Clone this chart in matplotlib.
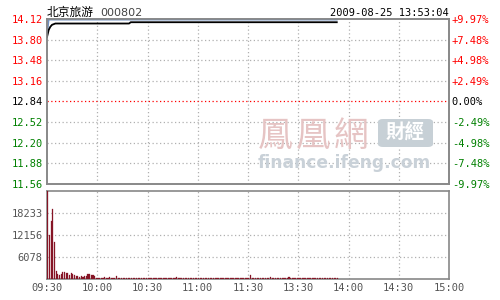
import matplotlib
matplotlib.use("Agg")
import matplotlib.pyplot as plt
from matplotlib.patches import FancyBboxPatch

# ---------------- data ----------------
stock_name = "北京旅游"
stock_code = "000802"
timestamp = "2009-08-25 13:53:04"
prev_close = 12.84

price_levels = [14.12, 13.80, 13.48, 13.16, 12.84, 12.52, 12.20, 11.88, 11.56]
pct_labels = ["+9.97%", "+7.48%", "+4.98%", "+2.49%", "0.00%",
              "-2.49%", "-4.98%", "-7.48%", "-9.97%"]
time_labels = ["09:30", "10:00", "10:30", "11:00", "11:30",
               "13:30", "14:00", "14:30", "15:00"]

price_times = ["09:30", "09:31", "09:32", "09:33", "09:35", "10:19", "10:20", "13:53"]
price_values = [13.84, 13.95, 14.00, 14.03, 14.05, 14.05, 14.07, 14.07]

avg_times = ["09:30", "09:31", "13:53"]
avg_values = [13.85, 14.11, 14.11]

vol_ticks = [6078, 12156, 18233]
vol_max = 24311

vol_morning = [
    24300, 12160, 16000, 19300, 10300, 2200, 1400, 1000, 1300, 1900,
    2000, 1700, 1700, 1000, 1700, 1300, 1000, 800, 900, 500,
    800, 600, 900, 800, 1300, 1300, 1200, 1000, 700, 400,
    400, 300, 350, 300, 450, 300, 350, 600, 350, 300,
    300, 700, 300, 350, 300, 400, 300, 350, 300, 300,
    350, 300, 300, 400, 300, 300, 350, 300, 300, 300,
    300, 350, 300, 300, 400, 300, 350, 300, 300, 350,
    300, 300, 350, 300, 300, 300, 350, 600, 300, 300,
    300, 350, 300, 300, 300, 350, 300, 300, 400, 300,
    300, 300, 350, 300, 300, 300, 300, 350, 300, 300,
    350, 300, 300, 300, 350, 300, 400, 300, 300, 350,
    300, 300, 350, 300, 300, 300, 350, 300, 300, 300,
]
vol_afternoon = [
    350, 1100, 400, 300, 300, 300, 350, 300, 300, 300,
    300, 350, 300, 500, 300, 300, 350, 300, 300, 300,
    300, 350, 300, 300, 500, 300, 300, 350, 300, 300,
    300, 300, 350, 300, 300, 300, 350, 300, 300, 300,
    300, 350, 300, 300, 300, 300, 350, 300, 300, 300,
    300, 350, 300, 300,
]


def tidx(s):
    h, m = map(int, s.split(":"))
    t = h * 60 + m
    if t <= 11 * 60 + 30:
        return t - (9 * 60 + 30)
    return 120 + t - 13 * 60


# ---------------- figure ----------------
MONO = "DejaVu Sans Mono"
fig = plt.figure(figsize=(5, 3), dpi=100)
fig.patch.set_facecolor("white")

L, W = 47 / 500, 402 / 500
axp = fig.add_axes([L, 1 - 184 / 300, W, 165 / 300])
axv = fig.add_axes([L, 1 - 279 / 300, W, 88 / 300])

grid_kw = dict(color="#b0b0b0", lw=0.9, ls=(0, (1, 2)), zorder=1)
spine_c = "#888888"

# price panel
axp.set_xlim(0, 240)
axp.set_ylim(price_levels[-1], price_levels[0])
for x in range(30, 240, 30):
    axp.axvline(x, **grid_kw)
for p in price_levels[1:-1]:
    if abs(p - prev_close) < 1e-6:
        axp.axhline(p, color="#ff0000", lw=0.9, ls=(0, (1, 2)), zorder=1)
    else:
        axp.axhline(p, **grid_kw)

axp.plot([tidx(t) for t in avg_times], avg_values, color="#7090c0", lw=1.2, zorder=3)
axp.plot([tidx(t) for t in price_times], price_values, color="black", lw=1.3, zorder=4)

axp.set_yticks(price_levels)
axp.set_yticklabels([f"{p:.2f}" for p in price_levels], fontfamily=MONO, fontsize=7.5)
for lab, p in zip(axp.get_yticklabels(), price_levels):
    lab.set_color("red" if p > prev_close + 1e-6 else ("black" if abs(p - prev_close) < 1e-6 else "#008000"))
axp.tick_params(axis="y", length=0, pad=3)
axp.set_xticks([])

axr = axp.twinx()
axr.set_ylim(axp.get_ylim())
axr.set_yticks(price_levels)
axr.set_yticklabels(pct_labels, fontfamily=MONO, fontsize=7.5)
for lab, p in zip(axr.get_yticklabels(), price_levels):
    lab.set_color("red" if p > prev_close + 1e-6 else ("black" if abs(p - prev_close) < 1e-6 else "#008000"))
axr.tick_params(axis="y", length=0, pad=2)

for a in (axp, axr):
    for s in a.spines.values():
        s.set_color(spine_c)
        s.set_linewidth(1.2)

# volume panel
vols = vol_morning + vol_afternoon
axv.set_xlim(0, 240)
axv.set_ylim(0, vol_max)
for x in range(30, 240, 30):
    axv.axvline(x, **grid_kw)
for v in vol_ticks:
    axv.axhline(v, **grid_kw)
axv.bar([i + 0.1 for i in range(len(vols))], vols, width=0.7, color="#861526",
        edgecolor="#861526", linewidth=0.2, align="edge", zorder=3)
axv.set_yticks(vol_ticks)
axv.set_yticklabels([str(v) for v in vol_ticks], fontfamily=MONO, fontsize=7.5, color="#555555")
axv.tick_params(axis="y", length=0, pad=3)
axv.set_xticks(range(0, 241, 30))
axv.set_xticklabels(time_labels, fontfamily=MONO, fontsize=7.5, color="#555555")
axv.tick_params(axis="x", length=0, pad=3)
for s in axv.spines.values():
    s.set_color(spine_c)
    s.set_linewidth(1.2)

# title texts
fig.text(47 / 500, 1 - 16 / 300, stock_name, fontfamily=["Noto Sans CJK SC", "DejaVu Sans"],
         fontsize=8.5, color="black", va="baseline", ha="left")
fig.text(100 / 500, 1 - 16 / 300, stock_code, fontfamily="DejaVu Sans", fontsize=8,
         color="#444444", va="baseline", ha="left")
fig.text(449 / 500, 1 - 16 / 300, timestamp, fontfamily=MONO, fontsize=7.5,
         color="black", va="baseline", ha="right")

# watermark
for i, ch in enumerate("鳳凰網"):
    fig.text((258 + 38 * i) / 500, 1 - 146 / 300, ch,
             fontfamily=["Noto Sans CJK TC", "DejaVu Sans"],
             fontsize=25, color="#e6c4c4", va="baseline", ha="left", zorder=0.5)
box = FancyBboxPatch((378 / 500, 1 - 147 / 300), 55 / 500, 28 / 300,
                     boxstyle="round,pad=0,rounding_size=0.01", transform=fig.transFigure,
                     facecolor="#c7d0d6", edgecolor="none", zorder=0.5)
fig.patches.append(box)
fig.text(405 / 500, 1 - 133 / 300, "財經", fontfamily=["Noto Sans CJK TC", "DejaVu Sans"],
         fontsize=14, color="white", fontweight="bold", va="center", ha="center", zorder=0.6)
fig.text(258 / 500, 1 - 168 / 300, "finance.ifeng.com", fontfamily="DejaVu Sans",
         fontsize=12.3, color="#c9d1d8", fontweight="bold", va="baseline", ha="left", zorder=0.5)

fig.savefig("out.png", dpi=100, facecolor="white")
